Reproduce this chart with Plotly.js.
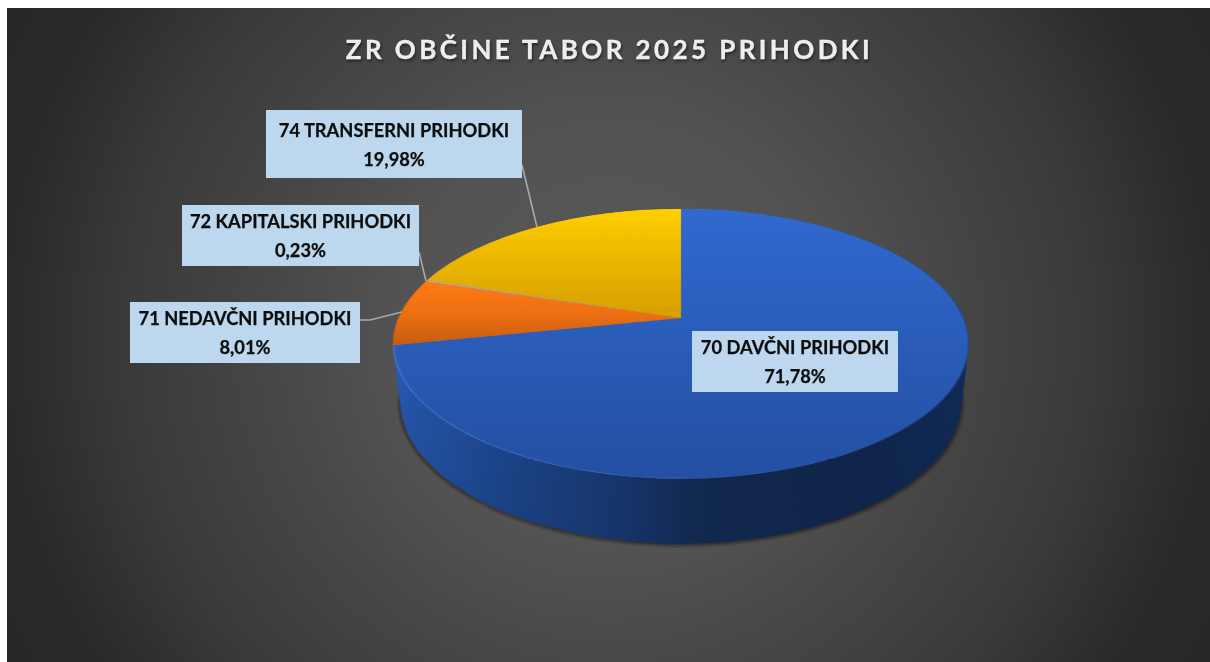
<!DOCTYPE html>
<html>
<head>
<meta charset="utf-8">
<script src="https://cdn.plot.ly/plotly-3.0.1.min.js"></script>
<style>
html,body{margin:0;padding:0;width:1210px;height:662px;overflow:hidden;background:#fff}
#bg{position:absolute;left:7px;top:8px;width:1203px;height:654px;
  background:radial-gradient(circle 683px at 50% 50%,#5a5a5a 0px,#525252 225px,#484848 325px,#3a3a3a 480px,#2a2a2a 600px,#272727 683px)}
#chart{position:absolute;left:0;top:0;width:1210px;height:662px}
</style>
</head>
<body>
<div id="bg"></div>
<div id="chart"></div>
<script>
// ---- data ----
const categories = ['70 DAVČNI PRIHODKI','71 NEDAVČNI PRIHODKI','72 KAPITALSKI PRIHODKI','74 TRANSFERNI PRIHODKI'];
const shares = [71.78, 8.01, 0.23, 19.98];
const sliceColors = ['#2a5db8','#f07010','#b0aca0','#eab000'];
const chartTitle = 'ZR OBČINE TABOR 2025 PRIHODKI';

// ---- geometry of the tilted disc ----
const W = 1210, H = 662, CX = 681, CY = 318;
const R = 281.8, TILT = 62.6, PERSP = 1319.5, S = 0.75;
const sinT = Math.sin(TILT*Math.PI/180), cosT = Math.cos(TILT*Math.PI/180);
const camD = PERSP*cosT, camY = PERSP*sinT, DEPTH = 66, STEPS = 44;

function disc(h, grow, colors){
  const k = camD/(camD+h), r = S*R*k*grow, cy = CY + S*camY*(1-k);
  return {type:'pie', values:shares, labels:categories, sort:false, direction:'clockwise', rotation:0,
    textinfo:'none', hoverinfo:'skip', showlegend:false,
    marker:{colors:colors, line:{width:0}},
    domain:{x:[(CX-r)/W,(CX+r)/W], y:[1-(cy+r)/H,1-(cy-r)/H]}};
}
const traces = [], roles = [];
const same = c => categories.map(()=>c);
traces.push(disc(DEPTH+1,1.012,same('rgba(45,35,25,0.35)'))); roles.push('none');
traces.push(disc(DEPTH,1.006,same('rgba(50,38,28,0.65)'))); roles.push('none');
for(let i=STEPS;i>=0;i--){ traces.push(disc(DEPTH*i/STEPS,1,same('#1a3c7a'))); roles.push('wall'); }
traces.push(disc(0,1.003,['#3f76d4','#d8660e','#d8660e','#e0a800'])); roles.push('rim');
traces.push(disc(0,1,sliceColors)); roles.push('top');

// ---- label boxes and leader lines (screen pixels) ----
const boxes = [[692,331,898,392],[130,302,360,363],[182,205,419,266],[266,110,522,178]];
const leaders = [[[360,320],[370,320]],[[370,320],[402,312]],[[419,252],[426,281]],[[522,165],[537,227]]];
const px = x => x/W, py = y => 1-y/H;
const annotations = [];
leaders.forEach(l=>annotations.push({xref:'paper',yref:'paper',x:px(l[1][0]),y:py(l[1][1]),text:' ',font:{size:1},
  showarrow:true,arrowhead:0,arrowwidth:1.6,arrowcolor:'#a9a9a9',axref:'pixel',ayref:'pixel',
  ax:l[0][0]-l[1][0],ay:l[0][1]-l[1][1],standoff:0,startstandoff:0,borderpad:0,borderwidth:0}));
categories.forEach((c,i)=>{
  const b = boxes[i];
  annotations.push({xref:'paper',yref:'paper',x:px((b[0]+b[2])/2),y:py((b[1]+b[3])/2),xanchor:'center',yanchor:'middle',
    width:b[2]-b[0],height:b[3]-b[1],bgcolor:'#BDD7EE',borderpad:0,borderwidth:0,showarrow:false,align:'center',valign:'middle',
    text:c+'<br>'+shares[i].toFixed(2).replace('.',',')+'%',
    font:{family:'Lato, sans-serif',size:18.3,color:'#0d0d0d',weight:700}});
});

const layout = {width:W,height:H,margin:{l:0,r:0,t:0,b:0},paper_bgcolor:'rgba(0,0,0,0)',plot_bgcolor:'rgba(0,0,0,0)',
  title:{text:chartTitle,x:609.5/W,xanchor:'center',y:1-50/H,yanchor:'middle',yref:'container',
    font:{family:'Lato, sans-serif',size:26,color:'#f8f8f8',weight:700,shadow:'1px 2px 3px rgba(0,0,0,0.45)'}},
  showlegend:false,annotations:annotations};

Plotly.newPlot('chart',traces,layout,{displayModeBar:false,staticPlot:true}).then(gd=>{
  const svgs = gd.querySelectorAll('svg.main-svg');
  const svg = svgs[0];
  const NS = 'http://www.w3.org/2000/svg';
  const defs = svg.querySelector('defs') || svg.insertBefore(document.createElementNS(NS,'defs'),svg.firstChild);
  function grad(id,attrs,stops){
    const g = document.createElementNS(NS,'linearGradient');
    g.setAttribute('id',id);
    Object.keys(attrs).forEach(a=>g.setAttribute(a,attrs[a]));
    stops.forEach(s=>{const e=document.createElementNS(NS,'stop');e.setAttribute('offset',s[0]);e.setAttribute('stop-color',s[1]);g.appendChild(e);});
    defs.appendChild(g);
  }
  const xl = CX-S*R, xr = CX+S*R;
  grad('gWall',{gradientUnits:'userSpaceOnUse',x1:xl,x2:xr,y1:0,y2:0},
    [[0,'#2760b8'],[0.08,'#2352a4'],[0.25,'#1b4285'],[0.42,'#17346a'],[0.52,'#11284f'],[0.75,'#0f2448'],[1,'#102a58']]);
  grad('gRim',{gradientUnits:'userSpaceOnUse',x1:xl,x2:xr,y1:0,y2:0},
    [[0,'#4d86e0'],[0.5,'#3f74cf'],[0.8,'#244f9c'],[1,'#1f4488']]);
  const v = {x1:0,x2:0,y1:0,y2:1};
  grad('gTop0',v,[[0,'#3069d0'],[0.5,'#2b5fbd'],[1,'#2450a3']]);
  grad('gTop1',v,[[0,'#ff7a14'],[0.55,'#ec6f12'],[1,'#c65c10']]);
  grad('gTop3',v,[[0,'#ffcf00'],[1,'#d79f00']]);
  svg.querySelectorAll('.pielayer .trace').forEach((t,i)=>{
    const paths = t.querySelectorAll('.slice path.surface');
    paths.forEach((p,j)=>{
      if(roles[i]==='wall') p.style.fill='url(#gWall)';
      if(roles[i]==='rim' && j===0) p.style.fill='url(#gRim)';
      if(roles[i]==='top' && j!==2) p.style.fill='url(#gTop'+j+')';
    });
  });
  // tilt the disc layer in perspective around the pie centre
  svg.style.transformOrigin = CX+'px '+CY+'px';
  svg.style.transform = 'perspective('+PERSP+'px) rotateX('+TILT+'deg) scale('+(1/S)+')';
  // title tracking and label line spacing
  gd.querySelectorAll('.gtitle').forEach(t=>{t.style.letterSpacing='3.4px';t.style.stroke='#f8f8f8';t.style.strokeWidth='0.3px';});
  gd.querySelectorAll('.annotation-text').forEach(t=>{
    const l = t.querySelectorAll('tspan.line');
    if(l.length===2){ l[0].setAttribute('dy','-2.5px'); l[1].setAttribute('dy','26.5px'); t.style.stroke='#0d0d0d';t.style.strokeWidth='0.25px'; }
  });
});
</script>
</body>
</html>
